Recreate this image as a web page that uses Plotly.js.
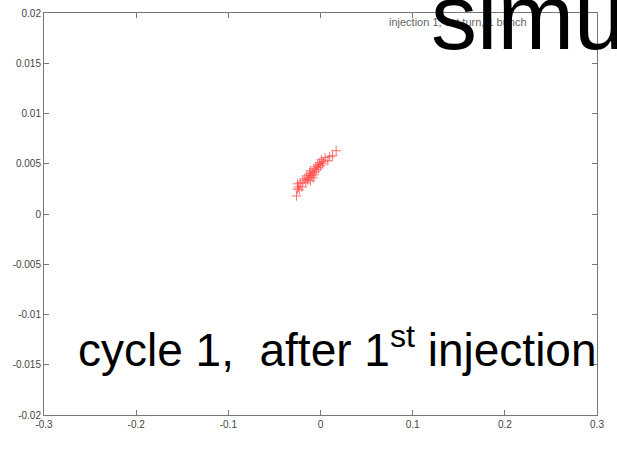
<!DOCTYPE html>
<html><head><meta charset="utf-8">
<script src="https://cdn.plot.ly/plotly-3.0.1.min.js"></script>
<style>html,body{margin:0;padding:0;background:#fff}#c{width:617px;height:457px}</style>
</head><body><div id="c"></div>
<script>
const xs = [-0.026,-0.025,-0.025,-0.024,-0.023,-0.022,-0.020,-0.019,-0.017,-0.016,-0.015,-0.014,-0.013,-0.012,-0.011,-0.011,-0.010,-0.009,-0.008,-0.007,-0.007,-0.006,-0.005,-0.004,-0.003,-0.002,-0.001,0.000,0.001,0.002,0.003,0.005,0.008,0.010,0.013,0.017];
const ys = [0.0018,0.0025,0.0030,0.0027,0.0024,0.0031,0.0027,0.0033,0.0035,0.0031,0.0038,0.0034,0.0036,0.0040,0.0033,0.0043,0.0038,0.0041,0.0036,0.0045,0.0039,0.0042,0.0047,0.0044,0.0049,0.0046,0.0051,0.0048,0.0054,0.0050,0.0052,0.0056,0.0053,0.0057,0.0058,0.0063];
const xTicks = [-0.3,-0.2,-0.1,0,0.1,0.2,0.3];
const yTicks = [-0.02,-0.015,-0.01,-0.005,0,0.005,0.01,0.015,0.02];
const legendText = "injection 1, 1st turn, 1 bunch";
const titleText = "simu";
const noteText = "cycle 1,\u00a0 after 1<sup style=\"font-size:28px\">st</sup> injection";

const FONT = 'Arial';
const axisCommon = {
  showgrid:false, zeroline:false, showline:true, linecolor:'#777', linewidth:1,
  mirror:'ticks', ticks:'inside', ticklen:5, tickcolor:'#777',
  tickfont:{family:FONT, size:10, color:'#444'}
};
Plotly.newPlot('c', [{
  x: xs, y: ys, type:'scatter', mode:'markers', showlegend:false,
  marker:{symbol:'cross-thin-open', size:7, color:'rgba(255,70,70,0.75)', line:{color:'rgba(255,70,70,0.75)', width:1}}
}], {
  width:617, height:457,
  margin:{l:44, r:20, t:13, b:42},
  paper_bgcolor:'#fff', plot_bgcolor:'#fff',
  font:{family:FONT},
  xaxis: Object.assign({}, axisCommon, {range:[-0.3,0.3], tickvals:xTicks, ticktext:xTicks.map(String)}),
  yaxis: Object.assign({}, axisCommon, {range:[-0.02,0.02], tickvals:yTicks, ticktext:yTicks.map(String)}),
  annotations:[
    {text:legendText, xref:'paper', yref:'paper', x:0.62, y:0.978, xanchor:'left', yanchor:'middle', showarrow:false,
     font:{family:FONT, size:11, color:'#666'}},
    {text:titleText, xref:'paper', yref:'paper', x:0.697, y:0.99, xanchor:'left', yanchor:'middle', showarrow:false,
     font:{family:FONT, size:92, color:'#000'}},
    {text:noteText, xref:'paper', yref:'paper', x:0.058, y:0.169, xanchor:'left', yanchor:'middle', showarrow:false,
     font:{family:FONT, size:46, color:'#000'}}
  ]
}, {staticPlot:true});
</script></body></html>
